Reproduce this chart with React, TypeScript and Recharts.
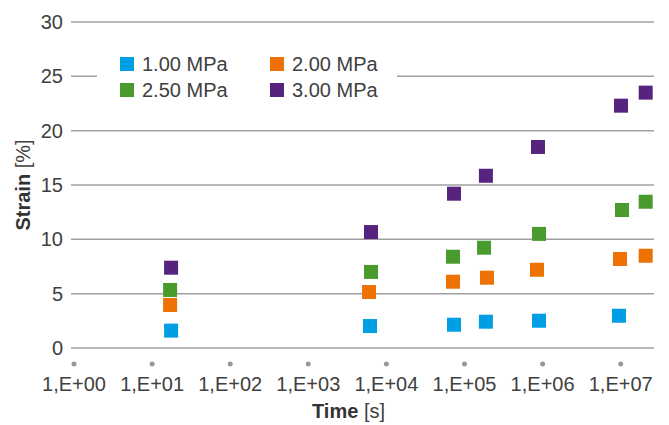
import React from 'react';
import { ScatterChart, Scatter, XAxis, YAxis, CartesianGrid, Legend } from 'recharts';

// time [s] and strain [%] per load level
const time100 = [17.5, 6170, 73400, 188000, 900000, 9.5e6];
const strain100 = [1.6, 2.02, 2.14, 2.42, 2.51, 2.97];

const time200 = [17, 5990, 71300, 194000, 848000, 9.8e6, 2.09e7];
const strain200 = [3.96, 5.15, 6.1, 6.47, 7.2, 8.19, 8.49];

const time250 = [17, 6350, 71300, 178000, 900000, 1.04e7, 2.09e7];
const strain250 = [5.34, 7.0, 8.4, 9.23, 10.5, 12.7, 13.46];

const time300 = [17.5, 6350, 73400, 188000, 873000, 1.01e7, 2.09e7];
const strain300 = [7.39, 10.67, 14.2, 15.85, 18.5, 22.3, 23.5];

const xTicks = [1, 10, 100, 1000, 1e4, 1e5, 1e6, 1e7];
const xTickLabels = ['1,E+00', '1,E+01', '1,E+02', '1,E+03', '1,E+04', '1,E+05', '1,E+06', '1,E+07'];
const yTicks = [0, 5, 10, 15, 20, 25, 30];

const zip = (t: number[], s: number[]) => t.map((v, i) => ({ t: v, strain: s[i] }));

const series = [
  { name: '1.00 MPa', color: '#009fe3', data: zip(time100, strain100) },
  { name: '2.00 MPa', color: '#ee7203', data: zip(time200, strain200) },
  { name: '2.50 MPa', color: '#4a9b2e', data: zip(time250, strain250) },
  { name: '3.00 MPa', color: '#56237f', data: zip(time300, strain300) },
];

const FONT = '"Liberation Sans", Arial, sans-serif';
const TEXT = '#404040';

const Square = (props: any) => {
  const { cx, cy, fill } = props;
  return <rect x={cx - 7} y={cy - 7} width={14} height={14} fill={fill} />;
};

const XTick = ({ x, y, payload, index }: any) => (
  <g>
    <circle cx={x} cy={y + 8} r={2.5} fill="#999" />
    <text x={x} y={y + 35} textAnchor="middle" fontSize={20} fontFamily={FONT} fill={TEXT}>
      {xTickLabels[index] ?? payload.value}
    </text>
  </g>
);

const LegendBox = () => (
  <div
    style={{
      display: 'grid',
      gridTemplateColumns: '150px 150px',
      gridAutoRows: '26px',
      paddingLeft: 23,
      background: '#fff',
      fontFamily: FONT,
      fontSize: 20,
      color: TEXT,
    }}
  >
    {[series[0], series[1], series[2], series[3]].map((s) => (
      <div key={s.name} style={{ display: 'flex', alignItems: 'center' }}>
        <span style={{ width: 14, height: 14, background: s.color, marginRight: 8, display: 'inline-block' }} />
        <span>{s.name}</span>
      </div>
    ))}
  </div>
);

export default function App() {
  return (
    <div style={{ position: 'absolute', left: 0, top: 0, width: 669, height: 425, background: '#fff' }}>
      <ScatterChart width={669} height={425} margin={{ top: 22, right: 15, left: 0, bottom: 0 }}>
        <CartesianGrid vertical={false} stroke="#a0a0a0" strokeWidth={1.5} />
        <XAxis
          dataKey="t"
          type="number"
          scale="log"
          domain={[0.915, 2.67e7]}
          ticks={xTicks}
          allowDataOverflow
          height={77}
          axisLine={false}
          tickLine={false}
          tick={<XTick />}
          interval={0}
          label={({ viewBox }: any) => (
            <text
              x={viewBox.x + viewBox.width / 2 - 14}
              y={viewBox.y + 70}
              textAnchor="middle"
              fontSize={20}
              fontFamily={FONT}
              fill={TEXT}
            >
              <tspan fontWeight="bold" fill="#333">Time</tspan>
              <tspan> [s]</tspan>
            </text>
          )}
        />
        <YAxis
          dataKey="strain"
          type="number"
          domain={[0, 30]}
          ticks={yTicks}
          width={71}
          axisLine={false}
          tickLine={false}
          tick={{ fontSize: 20, fontFamily: FONT, fill: TEXT }}
          label={({ viewBox }: any) => (
            <text
              x={23}
              y={viewBox.y + viewBox.height / 2}
              transform={`rotate(-90, 23, ${viewBox.y + viewBox.height / 2})`}
              textAnchor="middle"
              dominantBaseline="central"
              fontSize={20}
              fontFamily={FONT}
              fill={TEXT}
            >
              <tspan fontWeight="bold" fill="#333">Strain</tspan>
              <tspan> [%]</tspan>
            </text>
          )}
        />
        <Legend
          layout="horizontal"
          verticalAlign="middle"
          content={<LegendBox />}
          wrapperStyle={{ left: 97, top: 51, width: 300, height: 52 }}
        />
        {series.map((s) => (
          <Scatter
            key={s.name}
            name={s.name}
            data={s.data}
            fill={s.color}
            shape={<Square />}
            isAnimationActive={false}
          />
        ))}
      </ScatterChart>
    </div>
  );
}
